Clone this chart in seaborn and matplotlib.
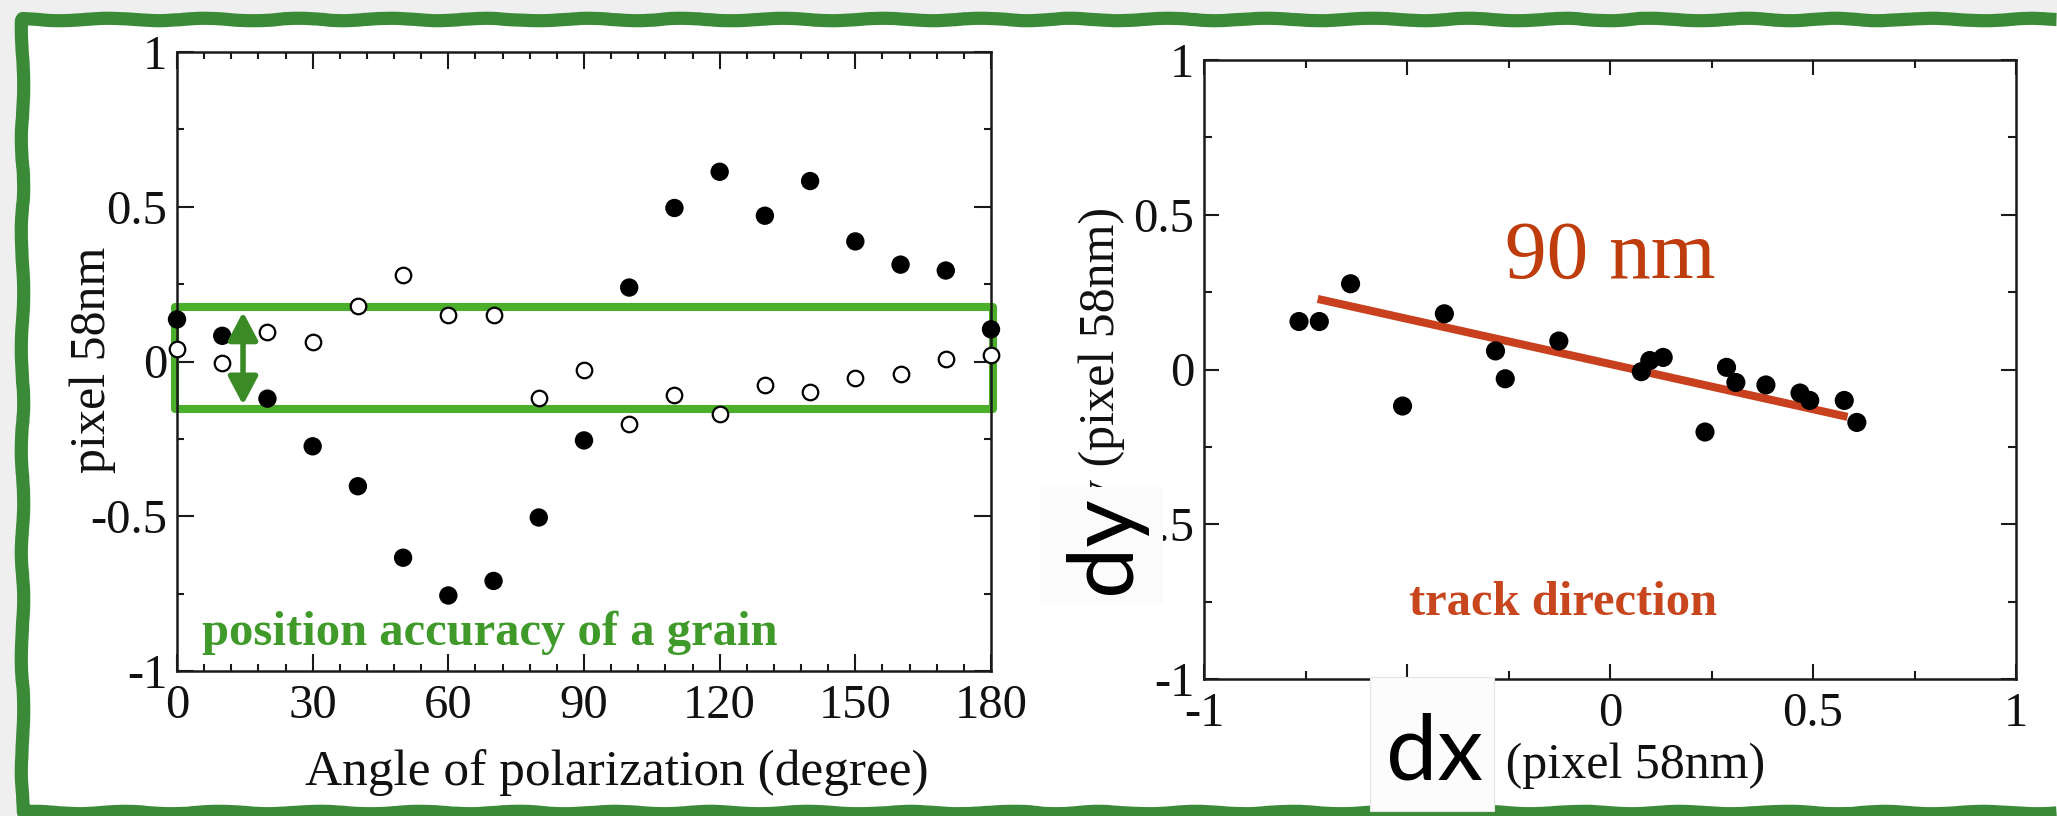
import matplotlib
matplotlib.use("Agg")
import matplotlib.pyplot as plt
import matplotlib.patches as mpatches
import matplotlib.ticker as mticker
from matplotlib.path import Path
import seaborn as sns

# ---------------- data ----------------
angles = [0, 10, 20, 30, 40, 50, 60, 70, 80, 90, 100, 110, 120, 130, 140, 150, 160, 170, 180]
shift_filled = [0.136, 0.083, -0.12, -0.274, -0.403, -0.634, -0.756, -0.709, -0.504, -0.255,
                0.239, 0.496, 0.613, 0.471, 0.583, 0.388, 0.313, 0.294, 0.104]
shift_open = [0.04, -0.004, 0.095, 0.062, 0.18, 0.279, 0.151, 0.151, -0.117, -0.029,
              -0.202, -0.109, -0.17, -0.075, -0.1, -0.052, -0.042, 0.007, 0.022]

dx_vals = [-0.766, -0.716, -0.639, -0.511, -0.408, -0.282, -0.258, -0.126, 0.077, 0.098,
           0.131, 0.234, 0.287, 0.31, 0.384, 0.468, 0.492, 0.577, 0.608]
dy_vals = [0.155, 0.155, 0.277, -0.118, 0.18, 0.06, -0.03, 0.092, -0.007, 0.029,
           0.039, -0.202, 0.007, -0.042, -0.05, -0.076, -0.1, -0.1, -0.171]

track_x = [-0.72, 0.585]
track_y = [0.228, -0.153]

left_xticks = [0, 30, 60, 90, 120, 150, 180]
unit_ticks = [-1, -0.5, 0, 0.5, 1]

# ---------------- style ----------------
sns.set_style("ticks")
plt.rcParams["font.family"] = ["Liberation Serif", "DejaVu Serif"]
plt.rcParams["axes.unicode_minus"] = False

W, H = 2057, 816
fig = plt.figure(figsize=(W / 100, H / 100), dpi=100)
fig.patch.set_facecolor("#efefef")


def fx(px):
    return px / W


def fy(py):
    return 1 - py / H


# white card + hand-drawn green frame (open on the right, where the picture is cropped)
card = mpatches.Rectangle((fx(22), fy(812)), 1.2, fy(19) - fy(812),
                          transform=fig.transFigure, facecolor="white",
                          edgecolor="none", zorder=-6)
fig.add_artist(card)
frame_path = Path([(fx(2056), fy(19)), (fx(22), fy(19)), (fx(22), fy(812)), (fx(2056), fy(812))],
                  [Path.MOVETO, Path.LINETO, Path.LINETO, Path.LINETO])
frame = mpatches.PathPatch(frame_path, transform=fig.transFigure, fill=False,
                           edgecolor="#3b8a37", linewidth=9.5, zorder=-5,
                           joinstyle="round", capstyle="butt")
frame.set_sketch_params(scale=1.2, length=120, randomness=3)
fig.add_artist(frame)

ax1 = fig.add_axes([fx(177), fy(671), fx(991) - fx(177), fy(52) - fy(671)])
ax2 = fig.add_axes([fx(1204), fy(679), fx(2016) - fx(1204), fy(60) - fy(679)])

ink = "#1a1a1a"
for ax in (ax1, ax2):
    ax.set_facecolor("white")
    for sp in ax.spines.values():
        sp.set_visible(True)
        sp.set_linewidth(1.8)
        sp.set_color(ink)
    ax.tick_params(which="both", direction="in", top=True, right=True,
                   width=1.5, color=ink, labelsize=35, labelcolor="#111111")
    ax.tick_params(axis="x", which="both", pad=9)
    ax.tick_params(axis="y", which="both", pad=7)
    ax.yaxis.set_major_formatter(mticker.FuncFormatter(lambda v, p: f"{v:g}"))
    ax.xaxis.set_major_formatter(mticker.FuncFormatter(lambda v, p: f"{v:g}"))

# ---------------- left panel ----------------
ax1.add_patch(mpatches.Rectangle((-0.5, -0.155), 181, 0.33, fill=False,
                                 edgecolor="#4caf2c", linewidth=5.8,
                                 joinstyle="round", clip_on=False, zorder=1.5))

sns.scatterplot(x=angles, y=shift_open, ax=ax1, color="white", edgecolor="black",
                linewidth=1.6, s=125, zorder=3, clip_on=False, legend=False)
sns.scatterplot(x=angles, y=shift_filled, ax=ax1, color="black", edgecolor="none",
                s=175, zorder=4, clip_on=False, legend=False)

ax1.annotate("", xy=(14.6, 0.16), xytext=(14.6, -0.14),
             arrowprops=dict(arrowstyle="<|-|>,head_length=1.7,head_width=0.9",
                             lw=4, color="#3a8a26", shrinkA=0, shrinkB=0,
                             mutation_scale=10), zorder=5)

ax1.text(5.5, -0.916, "position accuracy of a grain", color="#3f9a2a",
         fontsize=35, fontweight="bold", va="baseline", ha="left", zorder=6)

ax1.set_xlim(0, 180)
ax1.set_ylim(-1, 1)
ax1.set_xticks(left_xticks)
ax1.set_yticks(unit_ticks)
ax1.xaxis.set_minor_locator(mticker.MultipleLocator(6))
ax1.yaxis.set_minor_locator(mticker.MultipleLocator(0.25))
ax1.tick_params(which="major", length=12.5)
ax1.tick_params(which="minor", length=5)

ax1.set_xlabel("Angle of polarization (degree)", fontsize=37, color="#111111")
ax1.xaxis.label.set_va("baseline")
ax1.xaxis.set_label_coords(0.5405, -0.184)
ax1.set_ylabel("pixel 58nm", fontsize=36, color="#111111")
ax1.yaxis.label.set_va("center")
ax1.yaxis.set_label_coords(-0.104, 0.502)

# ---------------- right panel ----------------
sns.lineplot(x=track_x, y=track_y, ax=ax2, color="#c8401e", linewidth=5.8,
             estimator=None, solid_capstyle="butt", zorder=2, legend=False)
sns.scatterplot(x=dx_vals, y=dy_vals, ax=ax2, color="black", edgecolor="none",
                s=190, zorder=3, legend=False)

ax2.text(-0.258, 0.296, "90 nm", color="#bf3c0c", fontsize=60,
         va="baseline", ha="left")
ax2.text(-0.494, -0.794, "track direction", color="#c8461e", fontsize=35,
         fontweight="bold", va="baseline", ha="left")

ax2.set_xlim(-1, 1)
ax2.set_ylim(-1, 1)
ax2.set_xticks(unit_ticks)
ax2.set_yticks(unit_ticks)
ax2.xaxis.set_minor_locator(mticker.MultipleLocator(0.25))
ax2.yaxis.set_minor_locator(mticker.MultipleLocator(0.25))
ax2.tick_params(which="major", length=11)
ax2.tick_params(which="minor", length=5.5)

ax2.set_xlabel("dx (pixel 58nm)", fontsize=36, color="#111111")
ax2.xaxis.label.set_va("baseline")
ax2.xaxis.set_label_coords(0.4926, -0.16)
ax2.set_ylabel("dy (pixel 58nm)", fontsize=36, color="#111111")
ax2.yaxis.label.set_va("center")
ax2.yaxis.set_label_coords(-0.1256, 0.502)

# ---------------- pasted "dy" / "dx" labels ----------------
box_dy = mpatches.Rectangle((fx(1040), fy(605)), fx(1163) - fx(1040), fy(487) - fy(605),
                            transform=fig.transFigure, facecolor="#fbfbfb",
                            edgecolor="none", zorder=10)
fig.add_artist(box_dy)
fig.text(fx(1105), fy(545), "dy", rotation=90, fontsize=66, family=["Lato", "DejaVu Sans"],
         color="black", ha="center", va="center", zorder=11)

box_dx = mpatches.Rectangle((fx(1370), fy(811)), fx(1494) - fx(1370), fy(677) - fy(811),
                            transform=fig.transFigure, facecolor="#fcfcfc",
                            edgecolor="#e4e4e4", linewidth=0.8, zorder=10)
fig.add_artist(box_dx)
fig.text(fx(1434), fy(780), "dx", fontsize=66, family=["Lato", "DejaVu Sans"],
         color="black", ha="center", va="baseline", zorder=11)

fig.savefig("out.png", dpi=100, facecolor=fig.get_facecolor())
